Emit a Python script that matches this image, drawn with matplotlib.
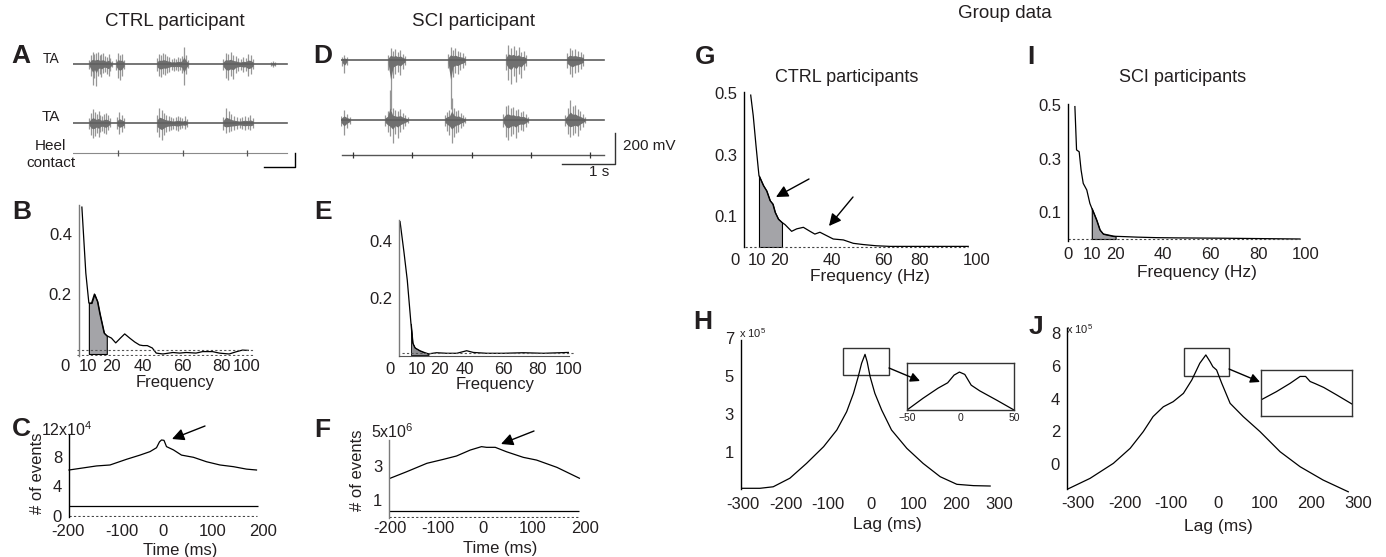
import numpy as np
import matplotlib.pyplot as plt
from matplotlib.patches import Rectangle, FancyArrowPatch

plt.rcParams['font.family'] = ['Liberation Sans', 'DejaVu Sans']
plt.rcParams['mathtext.fontset'] = 'custom'
plt.rcParams['mathtext.rm'] = 'Liberation Sans'

# ---------------- raw EMG (A: CTRL, D: SCI) ----------------
# burst on/off in s, spike amplitudes in mV (up / down from baseline)
A_ta1_on = [0.52, 1.39, 2.71, 4.84, 6.39]
A_ta1_off = [1.26, 1.65, 3.71, 5.81, 6.52]
A_ta1_up = [[55, 125, 170, 140, 155, 170, 125, 140, 155, 110, 100, 140, 85, 40],
            [70, 155, 125, 140, 55],
            [85, 140, 125, 155, 140, 110, 100, 70, 85, 70, 100, 85, 110, 250, 125, 55],
            [70, 155, 140, 170, 125, 110, 85, 70, 100, 85, 140, 125, 70],
            [30, 45, 30]]
A_ta1_dn = [[70, 170, 295, 195, 320, 170, 140, 180, 125, 110, 140, 170, 100, 40],
            [85, 195, 225, 170, 70],
            [100, 170, 180, 140, 155, 125, 110, 85, 100, 85, 100, 85, 125, 295, 140, 55],
            [85, 195, 225, 170, 210, 125, 100, 85, 110, 100, 170, 140, 70],
            [30, 45, 30]]
A_ta2_on = [0.52, 1.42, 2.71, 4.84]
A_ta2_off = [1.19, 1.65, 3.68, 5.81]
A_ta2_up = [[70, 140, 195, 155, 125, 170, 110, 100, 125, 140, 110, 70],
            [85, 155, 110, 70],
            [110, 210, 180, 140, 110, 100, 85, 70, 85, 100, 85, 70, 100, 55],
            [85, 210, 170, 125, 100, 85, 70, 85, 100, 85, 110, 70]]
A_ta2_dn = [[85, 170, 210, 180, 140, 195, 125, 110, 140, 155, 100, 55],
            [85, 155, 125, 70],
            [125, 195, 240, 170, 125, 110, 100, 85, 100, 110, 85, 70, 85, 55],
            [100, 140, 125, 110, 100, 85, 70, 85, 100, 85, 100, 70]]
A_heel = [1.45, 3.55, 5.61]
A_len = 6.9

D_ta1_on = [0.02, 0.89, 2.02, 3.11, 4.26]
D_ta1_off = [0.11, 1.21, 2.34, 3.49, 4.57]
D_ta1_up = [[20, 32, 20],
            [32, 77, 58, 71, 52, 65, 39, 26],
            [39, 84, 65, 77, 58, 52, 45, 26],
            [39, 97, 77, 90, 65, 84, 52, 58, 32],
            [45, 77, 65, 71, 58, 52, 39]]
D_ta1_dn = [[40, 85, 32],
            [65, 320, 115, 90, 77, 97, 58, 32],
            [52, 315, 110, 84, 90, 65, 52, 32],
            [65, 130, 155, 103, 142, 90, 116, 65, 39],
            [52, 90, 110, 84, 77, 58, 39]]
D_ta2_on = [0.0, 0.83, 1.96, 3.06, 4.23]
D_ta2_off = [0.17, 1.26, 2.34, 3.53, 4.60]
D_ta2_up = [[26, 65, 39, 20],
            [32, 58, 194, 77, 65, 58, 71, 45, 32, 20],
            [32, 52, 65, 142, 77, 58, 65, 45, 32, 20],
            [39, 90, 97, 77, 84, 65, 71, 52, 58, 39, 20],
            [32, 77, 129, 90, 97, 71, 58, 39, 20]]
D_ta2_dn = [[39, 97, 52, 26],
            [39, 77, 103, 148, 90, 116, 77, 58, 39, 20],
            [39, 71, 97, 148, 110, 84, 77, 52, 39, 20],
            [45, 110, 130, 103, 90, 116, 77, 65, 71, 45, 20],
            [39, 90, 110, 97, 84, 103, 65, 45, 20]]
D_heel = [0.23, 1.34, 2.47, 3.58, 4.70]
D_len = 4.96

# ---------------- coherence spectra ----------------
freq_labels = ['0', '10', '20', '40', '60', '80', '100']
B_f = [6.1, 8.3, 10, 11.5, 13.1, 14.8, 16.1, 18.5, 20, 22.6, 25, 27.6, 30, 32.8, 35.6,
       38.3, 40.2, 42.6, 45.4, 47.6, 51.3, 56.9, 60.6, 64.3, 69.8, 73.5, 79, 82.8, 88.3,
       92, 95.7, 99]
B_c = [0.49, 0.27, 0.17, 0.17, 0.20, 0.175, 0.135, 0.07, 0.061, 0.053, 0.037, 0.053,
       0.067, 0.053, 0.04, 0.03, 0.028, 0.028, 0.02, 0.003, 0.0, 0.005, 0.003, 0.005,
       0.003, 0.008, 0.008, 0.003, 0.0, 0.007, 0.013, 0.012]
B_sig = 0.013

E_f = [3.8, 6.0, 7.9, 9.5, 10, 11, 12.3, 15.1, 18, 20, 24.6, 30.4, 36.1, 41.7, 45.5,
       53.1, 62.6, 74, 85.4, 99.6]
E_c = [0.468, 0.362, 0.263, 0.147, 0.11, 0.042, 0.025, 0.015, 0.008, 0.004, 0.008,
       0.006, 0.006, 0.015, 0.009, 0.006, 0.006, 0.008, 0.006, 0.009]
E_sig = 0.006

G_f = [6.4, 7.5, 8.7, 9.7, 10, 11.9, 13.3, 14.8, 16, 17, 18.4, 20, 21.3, 24.2, 26.4,
       29.3, 32.2, 34.3, 36.5, 39.4, 42.3, 46.7, 51, 55.3, 61, 67, 101]
G_c = [0.494, 0.427, 0.33, 0.254, 0.232, 0.2, 0.183, 0.151, 0.14, 0.113, 0.091, 0.08,
       0.073, 0.051, 0.059, 0.064, 0.051, 0.042, 0.048, 0.037, 0.026, 0.023, 0.012,
       0.008, 0.004, 0.002, 0.002]

I_f = [2.9, 3.6, 4.7, 5.5, 6.4, 7.9, 9.2, 10, 12, 13.4, 14.8, 19, 20, 23.2, 28.9, 37.3,
       47, 64, 97.5]
I_c = [0.495, 0.333, 0.326, 0.258, 0.208, 0.183, 0.133, 0.115, 0.071, 0.034, 0.019,
       0.011, 0.010, 0.009, 0.007, 0.005, 0.004, 0.003, 0.0]

# ---------------- cumulant density / cross-correlation ----------------
C_t = [-188, -133, -106, -73, -46, -26, -13, -7, -3, 2, 7, 21, 37, 61, 87, 114, 141, 167, 187]
C_n = [6.18, 6.73, 6.86, 7.63, 8.2, 8.67, 9.2, 10.0, 10.25, 10.2, 9.35, 8.9, 8.2, 7.9,
       7.3, 6.86, 6.63, 6.3, 6.18]
C_sig = 1.35

F_t = [-182, -150, -110, -78, -52, -25, -3, 7, 24, 46, 79, 105, 145, 189]
F_n = [2.28, 2.66, 3.16, 3.39, 3.59, 3.94, 4.14, 4.1, 4.1, 3.84, 3.51, 3.35, 2.92, 2.28]
F_sig = 0.37

H_lag = [-304, -260, -229, -190, -151, -111, -80, -57, -41, -30, -22, -14, -9, -2, 9, 25,
         48, 84, 122, 162, 201, 240, 279]
H_val = [-0.91, -0.91, -0.83, -0.38, 0.4, 1.28, 2.16, 3.12, 4.09, 4.96, 5.67, 6.14, 5.75,
         4.96, 4.09, 3.21, 2.16, 1.19, 0.4, -0.3, -0.7, -0.77, -0.79]
H_zoom_lag = [-50, -35, -21, -12, -6, -1, 4, 10, 18, 34, 50]
H_zoom_val = [4.9, 5.25, 5.55, 5.71, 5.94, 6.03, 5.96, 5.64, 5.47, 5.19, 4.9]

J_lag = [-323, -274, -224, -188, -160, -139, -117, -96, -74, -56, -39, -26, -17, -11, -3,
         8, 26, 54, 90, 133, 176, 225, 279]
J_val = [-1.55, -0.88, 0.04, 0.96, 1.98, 2.9, 3.5, 3.81, 4.32, 5.14, 6.16, 6.67, 6.26,
         5.95, 5.75, 4.94, 3.71, 2.9, 1.98, 0.75, -0.17, -0.98, -1.7]
J_zoom_lag = [-50, -33, -18, -7, -1, 4, 10, 19, 33, 50]
J_zoom_val = [5.70, 6.06, 6.42, 6.72, 6.72, 6.50, 6.40, 6.24, 5.92, 5.52]

lag_ticks = [-300, -200, -100, 0, 100, 200, 300]

# ---------------- figure helpers (pixel layout) ----------------
W, H = 1386, 557
fig = plt.figure(figsize=(W / 100, H / 100), dpi=100)
INK = '#231f20'
SHADE = '#a4a4a8'


def px_axes(l, t, r, b):
    return fig.add_axes([l / W, 1 - b / H, (r - l) / W, (b - t) / H])


def label(x, y, s, size=12, **kw):
    kw.setdefault('ha', 'center')
    kw.setdefault('va', 'center')
    fig.text(x / W, 1 - y / H, s, fontsize=size, color=INK, **kw)


def arrow(x0, y0, x1, y1, ms=18):
    fig.add_artist(FancyArrowPatch((x0 / W, 1 - y0 / H), (x1 / W, 1 - y1 / H),
                                   transform=fig.transFigure, arrowstyle='-|>',
                                   mutation_scale=ms, lw=1, color='k',
                                   shrinkA=0, shrinkB=0))


def style(ax, xlim, ylim, spine_x, spine_lo, spine_hi, color='k', xpad=4, ypad=5):
    ax.set_xlim(*xlim)
    ax.set_ylim(*ylim)
    for s in ['top', 'right', 'bottom']:
        ax.spines[s].set_visible(False)
    sp = ax.spines['left']
    sp.set_color(color)
    sp.set_linewidth(1)
    sp.set_position(('data', spine_x))
    sp.set_bounds(spine_lo, spine_hi)
    ax.tick_params(length=0, labelsize=12, labelcolor=INK)
    ax.tick_params(axis='x', pad=xpad)
    ax.tick_params(axis='y', pad=ypad)
    ax.patch.set_visible(False)


def draw_trace(ax, y0, t_end, on, off, up, dn):
    ax.plot([0, t_end], [y0, y0], color='#5e5e5e', lw=1.2, zorder=3)
    for a, b, u, d in zip(on, off, up, dn):
        tt = np.linspace(a, b, len(u))
        u = np.asarray(u, float)
        d = np.asarray(d, float)
        ax.fill_between(tt, y0 - 0.4 * d, y0 + 0.4 * u, color='#707070', lw=0, zorder=2)
        ax.vlines(tt, y0 - d, y0 + u, color='#969696', lw=0.9, zorder=1)


# ---------------- A ----------------
axA = px_axes(73, 40, 300, 170)
axA.set_xlim(0, 7.32)
axA.set_ylim(-1516, 343)
axA.axis('off')
draw_trace(axA, 0, A_len, A_ta1_on, A_ta1_off, A_ta1_up, A_ta1_dn)
draw_trace(axA, -844, A_len, A_ta2_on, A_ta2_off, A_ta2_up, A_ta2_dn)
axA.plot([0, A_len], [-1273, -1273], color='#8a8a8a', lw=0.8)
axA.vlines(A_heel, -1273 - 43, -1273 + 43, color='#555555', lw=0.9)
axA.plot([6.16, 7.16, 7.16], [-1473, -1473, -1273], color='k', lw=1)

# ---------------- D ----------------
axD = px_axes(341, 35, 620, 170)
axD.set_xlim(0, 5.26)
axD.set_ylim(-710, 161)
axD.axis('off')
draw_trace(axD, 0, D_len, D_ta1_on, D_ta1_off, D_ta1_up, D_ta1_dn)
draw_trace(axD, -387, D_len, D_ta2_on, D_ta2_off, D_ta2_up, D_ta2_dn)
axD.plot([0.02, D_len], [-613, -613], color='#555555', lw=1)
axD.vlines(D_heel, -613 - 19, -613 + 19, color='#333333', lw=0.9)
axD.plot([4.17, 5.17, 5.17], [-671, -671, -471], color='#333333', lw=1)

# ---------------- B ----------------
axB = px_axes(60, 205, 258, 356)
style(axB, (-6.11, 104.4), (-0.0067, 0.497), 4.44, -0.0067, 0.497, color='#7a7a7a', xpad=2)
axB.plot(B_f, B_c, color='k', lw=0.9)
fb = np.array(B_f)
cb = np.array(B_c)
mb = (fb >= 10) & (fb <= 20)
axB.fill_between(fb[mb], 0, cb[mb], facecolor=SHADE, edgecolor='k', lw=0.8)
axB.hlines([B_sig, -0.004], 3.3, 102, colors='#555555', linestyles=(0, (2, 2)), lw=0.8)
axB.set_yticks([0.2, 0.4])
axB.set_yticklabels(['0.2', '0.4'])
axB.set_xticks([-3.3, 9.4, 22.8, 40, 62.2, 83.9, 98.3])
axB.set_xticklabels(freq_labels)

# ---------------- E ----------------
axE = px_axes(385, 218, 578, 356)
style(axE, (-4.78, 105.1), (-0.0035, 0.481), 3.19, -0.0035, 0.474, color='#7a7a7a', xpad=4)
axE.spines['bottom'].set_visible(True)
axE.spines['bottom'].set_color('#555555')
axE.spines['bottom'].set_bounds(3.19, 100)
axE.plot(E_f, E_c, color='k', lw=0.9)
fe = np.array(E_f)
ce = np.array(E_c)
me = (fe >= 10) & (fe <= 20)
axE.fill_between(fe[me], 0, ce[me], facecolor='#8e8e92', edgecolor='k', lw=0.6)
axE.hlines(E_sig, 4.9, 103.4, colors='#555555', linestyles=(0, (2, 2)), lw=0.8)
axE.set_yticks([0.2, 0.4])
axE.set_yticklabels(['0.2', '0.4'])
axE.set_xticks([-1.9, 13.4, 26, 40.8, 62.4, 82.3, 100])
axE.set_xticklabels(freq_labels)

# ---------------- C ----------------
axC = px_axes(55, 425, 265, 517)
style(axC, (-216, 204), (-0.19, 12.28), -188, -0.19, 10.93, xpad=5)
axC.plot(C_t, C_n, color='k', lw=0.9)
axC.hlines(C_sig, -188, 190, colors='k', lw=0.9)
axC.hlines(0, -188, 188, colors='#444444', linestyles=(0, (2, 2)), lw=0.8)
axC.set_yticks([0, 4, 8])
axC.set_yticklabels(['0', '4', '8'])
axC.set_xticks([-190, -82, 0, 100, 200])
axC.set_xticklabels(['-200', '-100', '0', '100', '200'])

# ---------------- F ----------------
axF = px_axes(375, 430, 590, 518)
style(axF, (-211.8, 209.8), (-0.06, 5.12), -184, -0.06, 4.53, color='#7a7a7a', xpad=2)
axF.plot(F_t, F_n, color='k', lw=0.9)
axF.hlines(F_sig, -184, 188, colors='k', lw=0.9)
axF.hlines(0, -184, 188, colors='#444444', linestyles=(0, (2, 2)), lw=0.8)
axF.set_yticks([1, 3])
axF.set_yticklabels(['1', '3'])
axF.set_xticks([-182, -88, 0, 98, 200])
axF.set_xticklabels(['-200', '-100', '0', '100', '200'])

# ---------------- G ----------------
axG = px_axes(725, 90, 985, 247)
style(axG, (-4.78, 108.3), (0, 0.5106), 3.48, 0, 0.504, xpad=4)
axG.plot(G_f, G_c, color='k', lw=0.9)
fg = np.array(G_f)
cg = np.array(G_c)
mg = (fg >= 10) & (fg <= 20)
axG.fill_between(fg[mg], 0, cg[mg], facecolor=SHADE, edgecolor='k', lw=0.8)
axG.hlines(0, 3.9, 101, colors='#444444', linestyles=(0, (2, 2)), lw=0.8, clip_on=False)
axG.set_yticks([0.1, 0.3, 0.5])
axG.set_yticklabels(['0.1', '0.3', '0.5'])
axG.set_xticks([-0.4, 9.0, 18.8, 41.7, 63.9, 80, 104.8])
axG.set_xticklabels(freq_labels)

# ---------------- I ----------------
axI = px_axes(1055, 100, 1315, 241)
style(axI, (-5.46, 103.8), (-0.0075, 0.5196), 0, -0.0075, 0.505, xpad=4)
axI.plot(I_f, I_c, color='k', lw=0.9)
fi = np.array(I_f)
ci = np.array(I_c)
mi = (fi >= 10) & (fi <= 20)
axI.fill_between(fi[mi], 0, ci[mi], facecolor=SHADE, edgecolor='k', lw=0.8)
axI.hlines(0, 0, 97.5, colors='#444444', linestyles=(0, (2, 2)), lw=0.8)
axI.set_yticks([0.1, 0.3, 0.5])
axI.set_yticklabels(['0.1', '0.3', '0.5'])
axI.set_xticks([0, 10, 20, 40, 60, 80, 100])
axI.set_xticklabels(freq_labels)

# ---------------- H ----------------
axH = px_axes(741, 332, 1001, 489)
style(axH, (-304.4, 304.4), (-0.947, 7.316), -304.4, -0.947, 6.9, xpad=6)
axH.plot(H_lag, H_val, color='k', lw=0.9)
axH.add_patch(Rectangle((-66, 5.05), 108, 1.45, fill=False, ec='#333333', lw=1))
axH.set_yticks([1, 3, 5, 7])
axH.set_yticklabels(['1', '3', '5', '7'])
axH.set_xticks(lag_ticks)
axH.set_xticklabels([str(v) for v in lag_ticks])

insH = px_axes(907, 363, 1014, 410)
insH.plot(H_zoom_lag, H_zoom_val, color='k', lw=0.9)
insH.set_xlim(-50, 50)
insH.set_ylim(4.9, 6.3)
insH.set_yticks([])
insH.set_xticks([-50, 0, 50])
insH.tick_params(length=0, labelsize=7.5, pad=2, labelcolor=INK)
for s in insH.spines.values():
    s.set_color('#333333')
    s.set_linewidth(1)

# ---------------- J ----------------
axJ = px_axes(1067, 326, 1365, 493)
style(axJ, (-323.3, 314.8), (-1.774, 8.44), -323.3, -1.55, 8.32, xpad=2)
axJ.plot(J_lag, J_val, color='k', lw=0.9)
axJ.add_patch(Rectangle((-73, 5.38), 97, 1.72, fill=False, ec='#333333', lw=1))
axJ.set_yticks([0, 2, 4, 6, 8])
axJ.set_yticklabels(['0', '2', '4', '6', '8'])
axJ.set_xticks(lag_ticks)
axJ.set_xticklabels([str(v) for v in lag_ticks])

insJ = px_axes(1261, 370, 1352, 416)
insJ.plot(J_zoom_lag, J_zoom_val, color='k', lw=0.9)
insJ.set_xlim(-50, 50)
insJ.set_ylim(5.0, 7.0)
insJ.set_xticks([])
insJ.set_yticks([])
for s in insJ.spines.values():
    s.set_color('#333333')
    s.set_linewidth(1)

# ---------------- arrows ----------------
arrow(205, 426, 172, 439)
arrow(534, 431, 501, 444)
arrow(809, 179, 776, 197)
arrow(853, 197, 829, 226)
arrow(889, 368, 920, 381, ms=14)
arrow(1229, 369, 1260, 382, ms=14)

# ---------------- texts ----------------
label(175, 22, 'CTRL participant', 13.5)
label(473, 22, 'SCI participant', 13.5)
label(1005, 13, 'Group data', 13.5)
label(847, 77, 'CTRL participants', 13)
label(1183, 77, 'SCI participants', 13)

for ch, x, y in [('A', 21, 56), ('D', 323, 56), ('B', 22, 212), ('E', 323, 212),
                 ('C', 21, 429), ('F', 322, 430), ('G', 705, 57), ('I', 1031, 57),
                 ('H', 703, 322), ('J', 1036, 327)]:
    label(x, y, ch, 19, fontweight='bold')

label(51, 59, 'TA', 10)
label(51, 117, 'TA', 11)
label(50, 146, 'Heel', 11)
label(51, 163, 'contact', 11)
label(623, 146, '200 mV', 11, ha='left')
label(599, 172, '1 s', 11)

label(175, 383, 'Frequency', 12)
label(495, 384, 'Frequency', 12)
label(180, 550, 'Time (ms)', 12)
label(500, 548, 'Time (ms)', 12)
label(870, 277, 'Frequency (Hz)', 12.5)
label(1197, 272, 'Frequency (Hz)', 12.5)
label(887, 524, 'Lag (ms)', 12.5)
label(1218, 527, 'Lag (ms)', 12.5)

label(38, 473, '# of events', 12, rotation=90)
label(357, 470, '# of events', 12, rotation=90)
label(67, 430, r'12x10$^4$', 11.5)
label(392, 432, r'5x10$^6$', 11.5)
label(753, 333, r'x 10$^5$', 8)
label(1080, 329, r'x 10$^5$', 8)

fig.savefig('out.png', dpi=100)
